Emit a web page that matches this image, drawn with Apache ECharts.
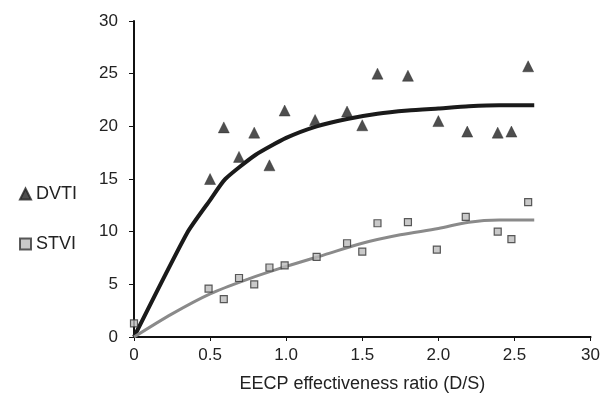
<!DOCTYPE html>
<html><head><meta charset="utf-8">
<script src="https://cdn.jsdelivr.net/npm/echarts@6/dist/echarts.min.js"></script>
<style>html,body{margin:0;padding:0;background:#fff}#c{width:603px;height:402px}</style>
</head><body><div id="c"></div>
<script>
const xTickLabels = ['0','0.5','1.0','1.5','2.0','2.5','30'];
const dvtiX = [0.50,0.59,0.69,0.79,0.89,0.99,1.19,1.40,1.50,1.60,1.80,2.00,2.19,2.39,2.48,2.59];
const dvtiY = [15.0,19.9,17.1,19.4,16.3,21.5,20.6,21.4,20.1,25.0,24.8,20.5,19.5,19.4,19.5,25.7];
const stviX = [0.00,0.49,0.59,0.69,0.79,0.89,0.99,1.20,1.40,1.50,1.60,1.80,1.99,2.18,2.39,2.48,2.59];
const stviY = [1.3,4.6,3.6,5.6,5.0,6.6,6.8,7.6,8.9,8.1,10.8,10.9,8.3,11.4,10.0,9.3,12.8];
const dvtiFitX = [0,0.35,0.5,0.6,0.8,1.0,1.2,1.4,1.6,1.8,2.0,2.2,2.4,2.63];
const dvtiFitY = [0,9.9,13.0,15.0,17.3,18.9,20.0,20.7,21.2,21.5,21.7,21.9,22.0,22.0];
const stviFitX = [0,0.25,0.5,0.75,1.0,1.25,1.5,1.75,2.0,2.2,2.4,2.63];
const stviFitY = [0,2.2,4.1,5.5,6.7,7.8,8.9,9.7,10.3,10.9,11.1,11.1];

const zip = (a,b)=>a.map((v,i)=>[v,b[i]]);
const font = "'Liberation Sans', Arial, sans-serif";
const chart = echarts.init(document.getElementById('c'));
chart.setOption({
  animation:false,
  backgroundColor:'#fff',
  grid:{left:134,right:10,top:21,bottom:65},
  legend:{
    orient:'vertical', left:14, top:180, itemGap:32, itemWidth:11, itemHeight:11,
    data:[{name:'DVTI',icon:'triangle'},{name:'STVI',icon:'rect'}],
    textStyle:{fontFamily:font,fontSize:18,color:'#222'}
  },
  xAxis:{
    type:'value', min:0, max:3, interval:0.5,
    name:'EECP effectiveness ratio (D/S)', nameLocation:'middle', nameGap:38,
    nameTextStyle:{fontFamily:font,fontSize:18,color:'#222'},
    axisLine:{lineStyle:{color:'#111',width:2}},
    axisTick:{show:true,length:4,lineStyle:{color:'#111'}},
    axisLabel:{fontFamily:font,fontSize:17,color:'#222',margin:10,
      formatter:(v)=>xTickLabels[Math.round(v/0.5)]},
    splitLine:{show:false}
  },
  yAxis:{
    type:'value', min:0, max:30, interval:5,
    axisLine:{show:true,lineStyle:{color:'#111',width:2}},
    axisTick:{show:true,length:5,lineStyle:{color:'#111'}},
    axisLabel:{fontFamily:font,fontSize:17,color:'#222',margin:16},
    splitLine:{show:false}
  },
  series:[
    {name:'DVTI fit',type:'line',data:zip(dvtiFitX,dvtiFitY),smooth:0.2,showSymbol:false,
      lineStyle:{color:'#1a1a1a',width:4},z:2},
    {name:'STVI fit',type:'line',data:zip(stviFitX,stviFitY),smooth:0.3,showSymbol:false,
      lineStyle:{color:'#8a8a8a',width:3},z:2},
    {name:'DVTI',type:'scatter',data:zip(dvtiX,dvtiY),symbol:'triangle',symbolSize:11,
      itemStyle:{color:'#222',borderColor:'#222',borderWidth:0.5},z:3},
    {name:'STVI',type:'scatter',data:zip(stviX,stviY),symbol:'rect',symbolSize:7,
      itemStyle:{color:'#bbb',borderColor:'#333',borderWidth:1.2},z:3}
  ]
});
</script></body></html>
